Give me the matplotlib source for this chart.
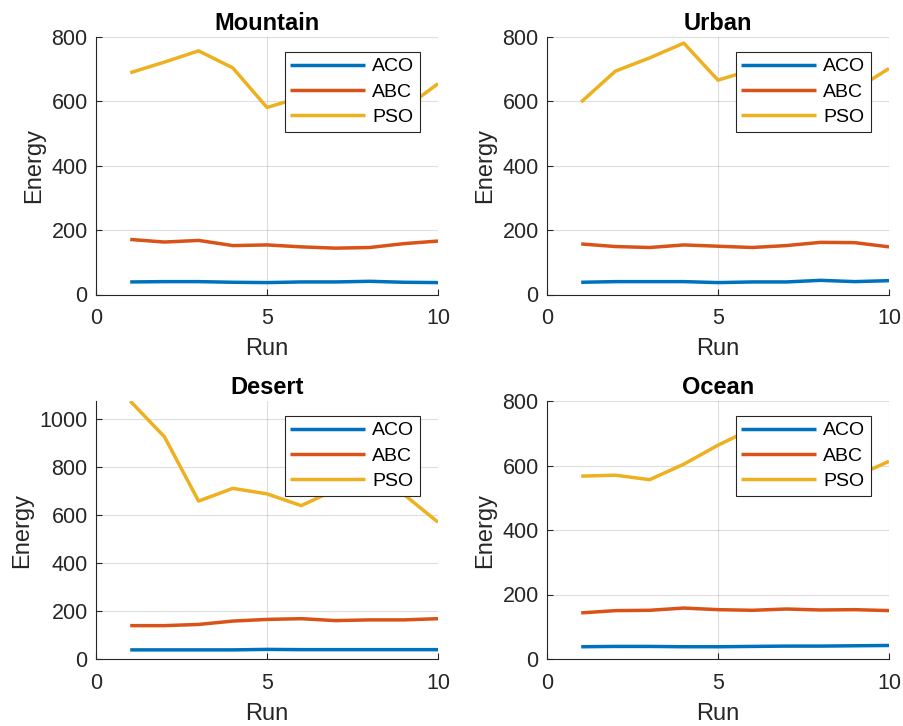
import matplotlib
matplotlib.use("Agg")
import matplotlib.pyplot as plt

plt.rcParams['font.family'] = ['Liberation Sans', 'DejaVu Sans']

runs = [1, 2, 3, 4, 5, 6, 7, 8, 9, 10]
algorithms = ["ACO", "ABC", "PSO"]
titles = ["Mountain", "Urban", "Desert", "Ocean"]

mountain_aco = [39, 40, 40, 38, 37, 39, 39, 41, 38, 37]
mountain_abc = [171, 163, 168, 152, 154, 148, 144, 146, 158, 166]
mountain_pso = [689, 722, 757, 704, 581, 613, 640, 620, 576, 655]

urban_aco = [38, 40, 40, 40, 37, 39, 39, 44, 40, 43]
urban_abc = [157, 149, 146, 154, 150, 146, 152, 162, 161, 148]
urban_pso = [598, 694, 735, 781, 666, 698, 720, 705, 636, 702]

desert_aco = [38, 38, 38, 38, 40, 39, 39, 39, 39, 39]
desert_abc = [139, 139, 144, 158, 165, 168, 160, 163, 163, 168]
desert_pso = [1075, 926, 658, 711, 688, 639, 705, 730, 686, 570]

ocean_aco = [38, 39, 39, 38, 38, 39, 40, 40, 41, 42]
ocean_abc = [143, 150, 151, 158, 153, 151, 155, 152, 153, 150]
ocean_pso = [567, 570, 556, 604, 663, 714, 730, 690, 565, 613]

data = [
    (mountain_aco, mountain_abc, mountain_pso),
    (urban_aco, urban_abc, urban_pso),
    (desert_aco, desert_abc, desert_pso),
    (ocean_aco, ocean_abc, ocean_pso),
]
ylims = [(0, 800), (0, 800), (0, 1075), (0, 800)]
yticks = [[0, 200, 400, 600, 800]] * 2 + [[0, 200, 400, 600, 800, 1000]] + [[0, 200, 400, 600, 800]]

colors = ["#0072BD", "#D95319", "#EDB120"]
dark = (0.15, 0.15, 0.15)

W, H = 904, 726
fig = plt.figure(figsize=(W / 100, H / 100), dpi=100)

positions = [
    (96, 37, 342, 257.5),
    (547, 37, 342, 257.5),
    (96, 401, 342, 258),
    (547, 401, 342, 258),
]

for i, (px, py, pw, ph) in enumerate(positions):
    ax = fig.add_axes([px / W, 1 - (py + ph) / H, pw / W, ph / H])
    for series, name, c in zip(data[i], algorithms, colors):
        ax.plot(runs, series, color=c, lw=2.5, label=name, solid_capstyle='butt')
    ax.set_xlim(0, 10)
    ax.set_ylim(*ylims[i])
    ax.set_xticks([0, 5, 10])
    ax.set_yticks(yticks[i])
    ax.grid(True, color=dark, alpha=0.15, lw=0.8)
    ax.set_axisbelow(True)
    for s in ['top', 'right']:
        ax.spines[s].set_visible(False)
    for s in ['left', 'bottom']:
        ax.spines[s].set_color(dark)
        ax.spines[s].set_linewidth(0.8)
    ax.tick_params(direction='in', length=4, width=0.8, colors=dark,
                   labelsize=15.5)
    ax.tick_params(axis='x', pad=10)
    ax.tick_params(axis='y', pad=6)
    ax.set_xlabel("Run", fontsize=17, color=dark, labelpad=6.5)
    ax.set_ylabel("Energy", fontsize=17, color=dark, labelpad=4.5)
    ax.set_title(titles[i], fontsize=17, fontweight='bold', color='black', pad=5.2)
    leg = ax.legend(loc='upper right', bbox_to_anchor=(0.947, 0.942),
                    borderaxespad=0, fontsize=14, frameon=True, fancybox=False,
                    framealpha=1, edgecolor=dark, handlelength=3.85,
                    handletextpad=0.34, labelspacing=0.40, borderpad=0.30)
    leg.get_frame().set_linewidth(0.8)
    for t in leg.get_texts():
        t.set_color('black')

fig.savefig("out.png", dpi=100, facecolor='white')
